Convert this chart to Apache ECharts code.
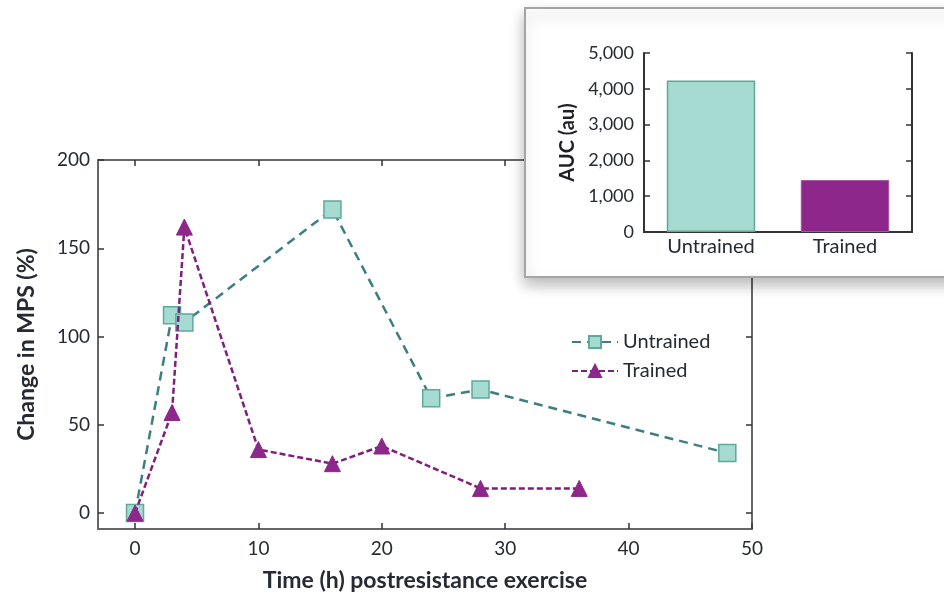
<!DOCTYPE html>
<html>
<head>
<meta charset="utf-8">
<script src="https://cdn.jsdelivr.net/npm/echarts@6/dist/echarts.min.js"></script>
<style>
  html, body { margin: 0; padding: 0; background: #fff; }
  #chart { width: 944px; height: 597px; }
</style>
</head>
<body>
<div id="chart"></div>
<script>
// Time course of muscle protein synthesis after resistance exercise
const untrainedTime = [0, 3, 4, 16, 24, 28, 48];
const untrainedMPS  = [0, 112, 108, 172, 65, 70, 34];
const trainedTime   = [0, 3, 4, 10, 16, 20, 28, 36];
const trainedMPS    = [0, 57, 162, 36, 28, 38, 14, 14];

const timeTicks = [0, 10, 20, 30, 40, 50];
const mpsTicks  = [0, 50, 100, 150, 200];

// Area under the curve (inset)
const aucGroups = ['Untrained', 'Trained'];
const aucValues = [4230, 1450];

const FONT = 'Lato';
const teal = '#3d7f80', tealFill = '#a6dbd2', tealEdge = '#5fa89a';
const purple = '#8e278b', purpleLine = '#7d1f7c';
const axisGray = '#666';
const textDark = '#262a33';

function pairs(xs, ys) { return xs.map((x, i) => [x, ys[i]]); }

const chart = echarts.init(document.getElementById('chart'));

const mainX = {
  type: 'value', gridIndex: 0, min: -3, max: 50,
  axisLine: { show: true, onZero: false, lineStyle: { color: axisGray, width: 2 } },
  axisTick: { show: true, inside: true, length: 6, customValues: timeTicks, lineStyle: { color: '#333', width: 1.5 } },
  splitLine: { show: false }
};
const mainY = {
  type: 'value', gridIndex: 0, min: -9, max: 200,
  axisLine: { show: true, onZero: false, lineStyle: { color: axisGray, width: 2 } },
  axisTick: { show: true, inside: true, length: 6, customValues: mpsTicks, lineStyle: { color: '#333', width: 1.5 } },
  splitLine: { show: false }
};

chart.setOption({
  animation: false,
  backgroundColor: '#fff',
  textStyle: { fontFamily: FONT },
  grid: [
    { left: 98, top: 160, right: 192, bottom: 67 },
    { left: 644, top: 53, right: 32, bottom: 365, zlevel: 1, z: 5 }
  ],
  graphic: [
    {
      type: 'rect', zlevel: 1, z: 1,
      shape: { x: 525, y: 8, width: 440, height: 269 },
      style: {
        fill: '#fff', stroke: '#a5a5a5', lineWidth: 2,
        shadowBlur: 14, shadowColor: 'rgba(0,0,0,0.28)', shadowOffsetY: 7
      }
    }
  ],
  legend: {
    left: 566, top: 327, orient: 'vertical',
    itemWidth: 46, itemHeight: 15, itemGap: 9,
    textStyle: { fontFamily: FONT, fontSize: 20, color: textDark },
    data: ['Untrained', 'Trained']
  },
  xAxis: [
    Object.assign({}, mainX, {
      position: 'bottom',
      name: 'Time (h) postresistance exercise', nameLocation: 'middle', nameGap: 40,
      nameTextStyle: { fontFamily: FONT, fontSize: 23, fontWeight: 'bold', color: textDark },
      axisLabel: { show: true, customValues: timeTicks, margin: 10, fontFamily: FONT, fontSize: 19, color: textDark }
    }),
    Object.assign({}, mainX, { position: 'top', axisLabel: { show: false } }),
    {
      type: 'category', gridIndex: 1, data: aucGroups, position: 'bottom',
      zlevel: 1, z: 6,
      axisLine: { show: true, lineStyle: { color: '#333', width: 2 } },
      axisTick: { show: false },
      axisLabel: { fontFamily: FONT, fontSize: 20, color: textDark, margin: 5 }
    },
    {
      type: 'category', gridIndex: 1, data: aucGroups, position: 'top',
      zlevel: 1, z: 6,
      axisLine: { show: true, lineStyle: { color: '#333', width: 2 } },
      axisTick: { show: false }, axisLabel: { show: false }
    }
  ],
  yAxis: [
    Object.assign({}, mainY, {
      position: 'left',
      name: 'Change in MPS (%)', nameLocation: 'middle', nameGap: 60,
      nameTextStyle: { fontFamily: FONT, fontSize: 23, fontWeight: 'bold', color: textDark },
      axisLabel: { show: true, customValues: mpsTicks, margin: 8, fontFamily: FONT, fontSize: 19, color: textDark }
    }),
    Object.assign({}, mainY, { position: 'right', axisLabel: { show: false } }),
    {
      type: 'value', gridIndex: 1, min: 0, max: 5000, interval: 1000, position: 'left',
      zlevel: 1, z: 6,
      name: 'AUC (au)', nameLocation: 'middle', nameGap: 66,
      nameTextStyle: { fontFamily: FONT, fontSize: 20, fontWeight: 'bold', color: '#1e1e24' },
      axisLine: { show: true, lineStyle: { color: '#333', width: 2 } },
      axisTick: { show: true, inside: true, length: 6, lineStyle: { color: '#333', width: 1.5 } },
      axisLabel: {
        fontFamily: FONT, fontSize: 18, color: textDark, margin: 10,
        formatter: v => v.toLocaleString('en-US')
      },
      splitLine: { show: false }
    },
    {
      type: 'value', gridIndex: 1, min: 0, max: 5000, interval: 1000, position: 'right',
      zlevel: 1, z: 6,
      axisLine: { show: true, lineStyle: { color: '#333', width: 2 } },
      axisTick: { show: true, inside: true, length: 6, lineStyle: { color: '#333', width: 1.5 } },
      axisLabel: { show: false }, splitLine: { show: false }
    }
  ],
  series: [
    {
      name: 'Untrained', type: 'line', xAxisIndex: 0, yAxisIndex: 0,
      data: pairs(untrainedTime, untrainedMPS),
      symbol: 'rect', symbolSize: 17,
      itemStyle: { color: tealFill, borderColor: tealEdge, borderWidth: 1.5 },
      lineStyle: { color: teal, width: 2.5, type: [9, 6] },
      z: 3
    },
    {
      name: 'Trained', type: 'line', xAxisIndex: 0, yAxisIndex: 0,
      data: pairs(trainedTime, trainedMPS),
      symbol: 'triangle', symbolSize: 16,
      itemStyle: { color: purple, borderColor: purple, borderWidth: 1 },
      lineStyle: { color: purpleLine, width: 2.5, type: [6, 3] },
      z: 4
    },
    {
      name: 'AUC', type: 'bar', xAxisIndex: 2, yAxisIndex: 2,
      zlevel: 1, z: 7, barCategoryGap: '34%',
      data: aucValues.map((v, i) => ({
        value: v,
        itemStyle: i === 0
          ? { color: tealFill, borderColor: tealEdge, borderWidth: 1.5 }
          : { color: purple, borderColor: '#a455a2', borderWidth: 1 }
      }))
    }
  ]
});
</script>
</body>
</html>
